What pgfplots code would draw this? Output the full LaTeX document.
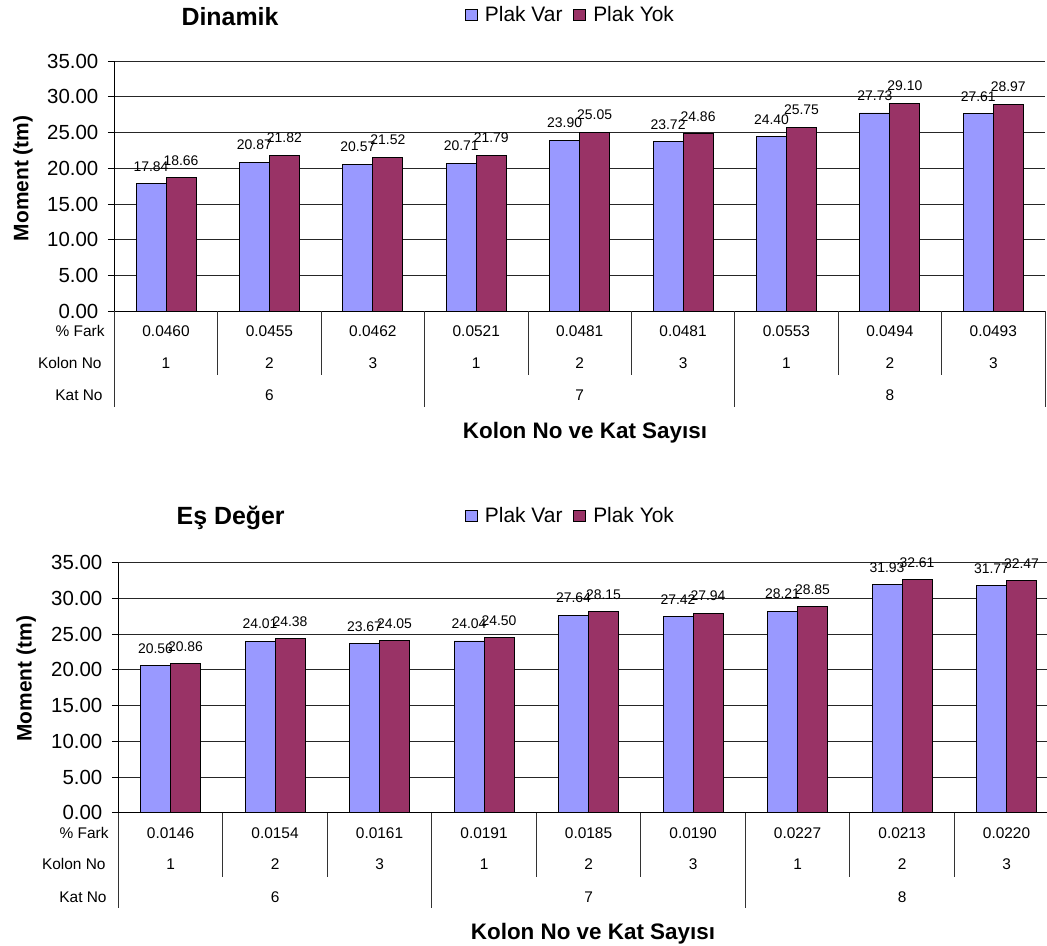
\documentclass[border=0pt]{standalone}
\usepackage{pgfplots}
\pgfplotsset{compat=1.18}
\usepackage{pgfplotstable}
\usepackage{fontspec}
\setmainfont{Liberation Sans}
\definecolor{plakvar}{HTML}{9999FF}
\definecolor{plakyok}{HTML}{993366}
\newcommand\fs[1]{\fontsize{#1}{#1}\selectfont}

\pgfplotstableread{
x var yok
0 17.84 18.66
1 20.87 21.82
2 20.57 21.52
3 20.71 21.79
4 23.90 25.05
5 23.72 24.86
6 24.40 25.75
7 27.73 29.10
8 27.61 28.97
}\dinamik
\pgfplotstableread{
x var yok
0 20.56 20.86
1 24.01 24.38
2 23.67 24.05
3 24.04 24.50
4 27.64 28.15
5 27.42 27.94
6 28.21 28.85
7 31.93 32.61
8 31.77 32.47
}\esdeger

\newcommand\tcell[3]{\path (axis cs:#1,0) ++(0pt,-#2) node[anchor=base,inner sep=0pt,font=\fs{15.5}]{#3};}
\newcommand\rlab[3]{\path (axis cs:-0.5,0) ++(-#1,-#2) node[anchor=base east,inner sep=0pt,font=\fs{15.5}]{#3};}
\newcommand\sepl[2]{\draw[black!80,line width=0.8bp] (axis cs:#1,0) -- ++(0pt,-#2);}
\newcommand\farkrow[9]{%
 \tcell{0}{25.5bp}{#1}\tcell{1}{25.5bp}{#2}\tcell{2}{25.5bp}{#3}%
 \tcell{3}{25.5bp}{#4}\tcell{4}{25.5bp}{#5}\tcell{5}{25.5bp}{#6}%
 \tcell{6}{25.5bp}{#7}\tcell{7}{25.5bp}{#8}\tcell{8}{25.5bp}{#9}}
\newcommand\tablegrid{%
 \rlab{9.5bp}{25.5bp}{\% Fark}
 \rlab{12.5bp}{57bp}{Kolon No}
 \rlab{11.5bp}{89.5bp}{Kat No}
 \tcell{0}{57bp}{1}\tcell{1}{57bp}{2}\tcell{2}{57bp}{3}
 \tcell{3}{57bp}{1}\tcell{4}{57bp}{2}\tcell{5}{57bp}{3}
 \tcell{6}{57bp}{1}\tcell{7}{57bp}{2}\tcell{8}{57bp}{3}
 \tcell{1}{89.5bp}{6}\tcell{4}{89.5bp}{7}\tcell{7}{89.5bp}{8}
 \sepl{-0.5}{95.5bp}\sepl{0.5}{64bp}\sepl{1.5}{64bp}\sepl{2.5}{95.5bp}
 \sepl{3.5}{64bp}\sepl{4.5}{64bp}\sepl{5.5}{95.5bp}
 \sepl{6.5}{64bp}\sepl{7.5}{64bp}\sepl{8.5}{95.5bp}
}

\pgfplotsset{
 chart/.style={
  scale only axis,
  anchor=south west,
  ybar=0pt, bar width=30bp,
  xmin=-0.5, xmax=8.5, ymin=0, ymax=35,
  enlargelimits=false,
  axis x line=bottom, axis y line=left,
  axis line style={-, black, line width=0.9bp},
  xtick=\empty,
  ytick={0,5,...,35},
  tick align=outside, major tick length=6.5bp,
  ytick style={black, line width=0.8bp},
  ymajorgrids, grid style={black!85, line width=0.8bp},
  yticklabel style={font=\fs{20.5}, xshift=-6bp},
  /pgf/number format/fixed, /pgf/number format/fixed zerofill,
  /pgf/number format/precision=2, /pgf/number format/assume math mode=true,
  clip=false,
  nodes near coords,
  every node near coord/.append style={font=\fs{14}, anchor=base, inner sep=0pt, yshift=12.5bp},
  title style={anchor=base, font=\bfseries\fs{25}, inner sep=0pt},
  xlabel style={anchor=base, font=\bfseries\fs{22.5}, inner sep=0pt},
  ylabel style={anchor=base, font=\bfseries\fs{21}, inner sep=0pt},
  legend columns=2,
  legend style={draw=none, fill=none, anchor=west, font=\fs{21}, inner sep=0pt,
    /tikz/every odd column/.append style={column sep=5bp},
    /tikz/every even column/.append style={column sep=9bp}},
  legend image code/.code={\draw[#1, line width=0.8bp] (0bp,-5.5bp) rectangle (12bp,5.5bp);},
  xlabel={Kolon No ve Kat Sayısı},
  ylabel={Moment (tm)},
 }
}

\begin{document}
\begin{tikzpicture}
\useasboundingbox (0,0) rectangle (1047bp,946bp);
\begin{axis}[chart, at={(114.3bp,634.7bp)}, width=930.7bp, height=250.3bp,
  title={Dinamik}, title style={at={(axis description cs:0.1243,1.116)}},
  xlabel style={at={(axis description cs:0.5057,-0.510)}},
  ylabel style={at={(axis description cs:-0.0924,0.531)}},
  legend style={at={(axis description cs:0.3768,1.184)}}]
\addplot[fill=plakvar, draw=black, line width=0.9bp] table[x=x,y=var]{\dinamik};
\addplot[fill=plakyok, draw=black, line width=0.9bp] table[x=x,y=yok]{\dinamik};
\legend{Plak Var, Plak Yok}
\farkrow{0.0460}{0.0455}{0.0462}{0.0521}{0.0481}{0.0481}{0.0553}{0.0494}{0.0493}
\tablegrid
\end{axis}
\begin{axis}[chart, at={(118.3bp,133.3bp)}, width=940.5bp, height=250bp,
  title={Eş Değer}, title style={at={(axis description cs:0.1195,1.127)}},
  xlabel style={at={(axis description cs:0.5047,-0.506)}},
  ylabel style={at={(axis description cs:-0.0921,0.536)}},
  legend style={at={(axis description cs:0.3686,1.187)}}]
\addplot[fill=plakvar, draw=black, line width=0.9bp] table[x=x,y=var]{\esdeger};
\addplot[fill=plakyok, draw=black, line width=0.9bp] table[x=x,y=yok]{\esdeger};
\legend{Plak Var, Plak Yok}
\farkrow{0.0146}{0.0154}{0.0161}{0.0191}{0.0185}{0.0190}{0.0227}{0.0213}{0.0220}
\tablegrid
\end{axis}
\end{tikzpicture}
\end{document}
